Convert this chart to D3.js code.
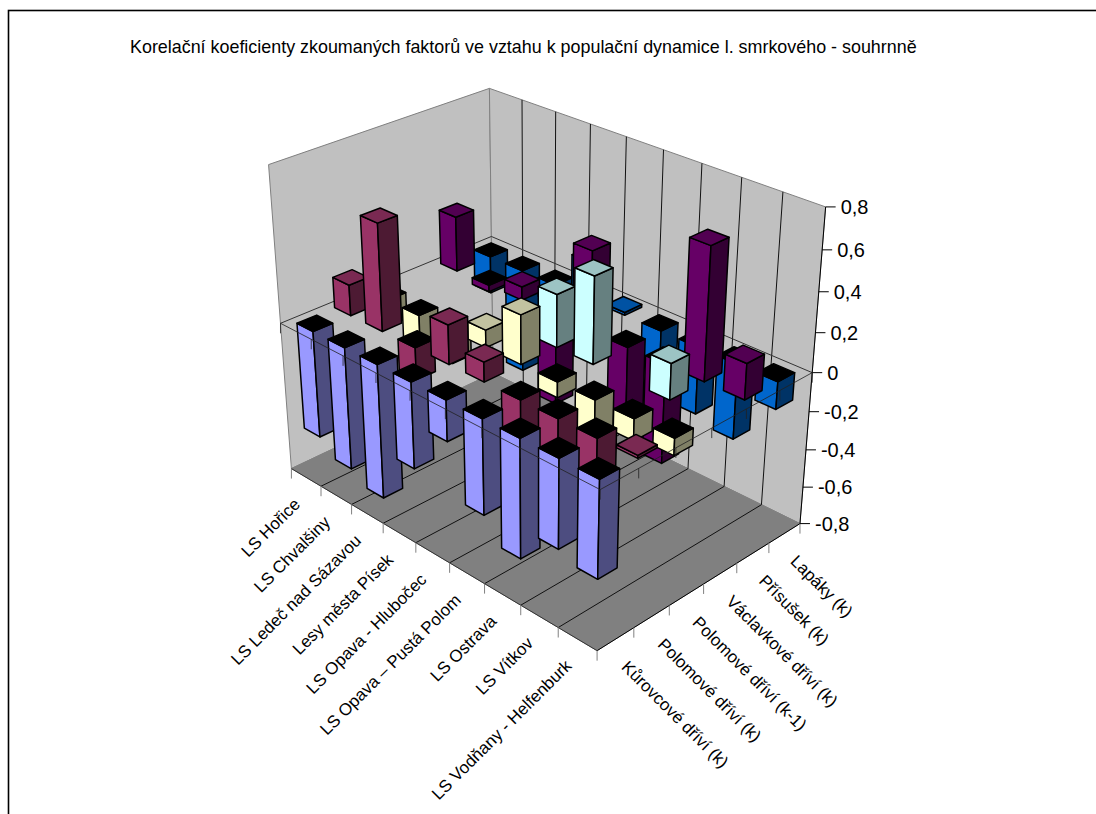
<!DOCTYPE html>
<html>
<head>
<meta charset="utf-8">
<script src="https://cdn.jsdelivr.net/npm/d3@7"></script>
<style>
html,body{margin:0;padding:0;background:#fff}
svg{display:block}
text{font-family:"Liberation Sans",Arial,sans-serif;fill:#000}
</style>
</head>
<body>
<div id="chart"></div>
<script>
const chartTitle = "Korelační koeficienty zkoumaných faktorů ve vztahu k populační dynamice l. smrkového - souhrnně";
const categories = ["LS Hořice","LS Chvalšiny","LS Ledeč nad Sázavou","Lesy města Písek","LS Opava - Hlubočec","LS Opava – Pustá Polom","LS Ostrava","LS Vítkov","LS Vodňany - Helfenburk"];
const seriesNames = ["Kůrovcové dříví (k)","Polomové dříví (k)","Polomové dříví (k-1)","Václavkové dříví (k)","Přísušek (k)","Lapáky (k)"];
const valueTicks = [-0.8,-0.6,-0.4,-0.2,0,0.2,0.4,0.6,0.8];

const kurovcove  = [-0.57,-0.65,-0.71,-0.45,-0.21,-0.49,-0.61,-0.45,-0.49];
const polomoveK  = [0.16,0.55,-0.17,0.20,0.10,-0.30,-0.30,-0.30,0.015];
const polomoveK1 = [-0.14,-0.20,-0.17,0.09,0.25,-0.08,-0.20,-0.11,-0.085];
const vaclavkove = [null,null,null,null,0.27,0.44,null,0.18,null];
const prisusek   = [0.29,-0.035,0.07,-0.48,0.41,-0.35,-0.52,0.66,0.18];
const lapaky     = [-0.20,-0.56,-0.10,0.20,0.015,-0.20,-0.35,-0.39,-0.14];
const seriesValues = [kurovcove,polomoveK,polomoveK1,vaclavkove,prisusek,lapaky];

// Face colours per series: lit side, shaded side, top
const litFaces   = ["#9999FF","#993366","#FFFFCC","#CCFFFF","#660066","#0066CC"];
const shadeFaces = ["#4D4D80","#4D1A33","#808066","#668080","#330033","#003366"];
const topFaces   = ["#000000","#7A2952","#C2C2A0","#9CC4C4","#520052","#0052A3"];

const width = 1096, height = 814;
const svg = d3.select("#chart").append("svg").attr("width",width).attr("height",height);

// Perspective camera, fitted to where the box corners and axis divisions land on the page.
// Each row: category-axis fraction, series-axis fraction, value fraction, page x, page y.
const cameraFit = [
  [0,0,-1,291,467],[0,0,0,280,322],[0,0,1,268,167],
  [1,0,-1,597,650],[1,0,0,600,489],
  [0,1,-1,493,375],[0,1,0,492,237],[0,1,1,490,87],
  [1,1,-1,800,523],[1,1,-.75,803,486],[1,1,-.5,806,449],[1,1,-.25,809,412],[1,1,0,812,373],
  [1,1,.25,815,333],[1,1,.5,819,291],[1,1,.75,823,250],[1,1,1,825,207],
  [1/9,0,-1,321,486],[2/9,0,-1,352,504],[3/9,0,-1,383,523],[4/9,0,-1,415,542],
  [5/9,0,-1,450,563],[6/9,0,-1,485,584],[7/9,0,-1,522,606],[8/9,0,-1,559,628],
  [1,1/6,-1,634,628],[1,2/6,-1,669,607],[1,3/6,-1,703,585],[1,4/6,-1,737,563],[1,5/6,-1,768,543]
];

function solveLinear(A,b){
  const n=b.length, M=A.map((r,i)=>[...r,b[i]]);
  for(let i=0;i<n;i++){
    let p=i;
    for(let k=i+1;k<n;k++) if(Math.abs(M[k][i])>Math.abs(M[p][i])) p=k;
    [M[i],M[p]]=[M[p],M[i]];
    for(let k=i+1;k<n;k++){
      const f=M[k][i]/M[i][i];
      for(let j=i;j<=n;j++) M[k][j]-=f*M[i][j];
    }
  }
  const x=new Array(n).fill(0);
  for(let i=n-1;i>=0;i--){
    let s=M[i][n];
    for(let j=i+1;j<n;j++) s-=M[i][j]*x[j];
    x[i]=s/M[i][i];
  }
  return x;
}
function fitCamera(rows){
  const eqs=[],rhs=[];
  rows.forEach(([u,w,h,x,y])=>{
    eqs.push([u,w,h,1,0,0,0,0,-x*u,-x*w,-x*h]); rhs.push(x);
    eqs.push([0,0,0,0,u,w,h,1,-y*u,-y*w,-y*h]); rhs.push(y);
  });
  const N=11, A=d3.range(N).map(()=>new Array(N).fill(0)), b=new Array(N).fill(0);
  eqs.forEach((e,k)=>{
    for(let i=0;i<N;i++){
      b[i]+=e[i]*rhs[k];
      for(let j=0;j<N;j++) A[i][j]+=e[i]*e[j];
    }
  });
  return solveLinear(A,b);
}
const cam = fitCamera(cameraFit);

const catAxis = d3.scaleLinear().domain([0,categories.length]).range([0,1]);
const serAxis = d3.scaleLinear().domain([0,seriesNames.length]).range([0,1]);
const valAxis = d3.scaleLinear().domain([-0.8,0.8]).range([-1,1]);
const catBand = d3.scaleBand().domain(d3.range(categories.length)).range([0,categories.length]).paddingInner(0.48).paddingOuter(0.24);
const serBand = d3.scaleBand().domain(d3.range(seriesNames.length)).range([0,seriesNames.length]).paddingInner(0.48).paddingOuter(0.24);

// Project category position, series position and value onto the page
function project(c,s,v){
  const u=catAxis(c), w=serAxis(s), h=valAxis(v);
  const d=cam[8]*u+cam[9]*w+cam[10]*h+1;
  return [(cam[0]*u+cam[1]*w+cam[2]*h+cam[3])/d,(cam[4]*u+cam[5]*w+cam[6]*h+cam[7])/d];
}
const nC=categories.length, nS=seriesNames.length;
const outline=pts=>"M"+pts.map(p=>p.join(",")).join("L")+"Z";
const segment=(a,b)=>"M"+a.join(",")+"L"+b.join(",");

// Chart frame runs off the right and bottom of the page
svg.append("rect").attr("x",8.5).attr("y",10.5).attr("width",1200).attr("height",1000)
  .attr("fill","#fff").attr("stroke","#000").attr("stroke-width",1.6);

svg.append("text").attr("x",130).attr("y",53).attr("font-size",17.9).text(chartTitle);

// Walls and floor
const wallsG=svg.append("g");
wallsG.append("path").attr("d",outline([project(0,0,-.8),project(0,0,.8),project(0,nS,.8),project(0,nS,-.8)]))
  .attr("fill","#C0C0C0").attr("stroke","#808080");
wallsG.append("path").attr("d",outline([project(0,nS,-.8),project(0,nS,.8),project(nC,nS,.8),project(nC,nS,-.8)]))
  .attr("fill","#C0C0C0").attr("stroke","#808080");
wallsG.append("path").attr("d",outline([project(0,0,-.8),project(0,nS,-.8),project(nC,nS,-.8),project(nC,0,-.8)]))
  .attr("fill","#808080").attr("stroke","#808080");

// Category gridlines across the floor and up the back wall
d3.range(1,nC).forEach(c=>{
  wallsG.append("path").attr("fill","none").attr("stroke","#111").attr("stroke-width",1)
    .attr("d","M"+[project(c,0,-.8),project(c,nS,-.8),project(c,nS,.8)].map(p=>p.join(",")).join("L"));
});
wallsG.append("path").attr("d",segment(project(0,0,-.8),project(nC,0,-.8))).attr("stroke","#333").attr("fill","none");
wallsG.append("path").attr("d",segment(project(nC,0,-.8),project(nC,nS,-.8))).attr("stroke","#000").attr("fill","none");

// Axis ticks below the floor edges
const floorTicks=svg.append("g").attr("stroke","#808080").attr("stroke-width",1).attr("fill","none");
d3.range(0,nC+1).forEach(c=>{const p=project(c,0,-.8);floorTicks.append("line").attr("x1",p[0]).attr("x2",p[0]).attr("y1",p[1]).attr("y2",p[1]+10);});
d3.range(1,nS+1).forEach(s=>{const p=project(nC,s,-.8);floorTicks.append("line").attr("x1",p[0]).attr("x2",p[0]).attr("y1",p[1]).attr("y2",p[1]+10);});

// Zero plane, far edges sit behind the bars
const zeroBack=svg.append("g").attr("stroke","#333").attr("fill","none");
zeroBack.append("path").attr("d",segment(project(0,0,0),project(0,nS,0)));
zeroBack.append("path").attr("d",segment(project(0,nS,0),project(nC,nS,0)));

// Value axis
const axisG=svg.append("g");
axisG.append("path").attr("d",segment(project(nC,nS,-.8),project(nC,nS,.8))).attr("stroke","#000").attr("fill","none");
valueTicks.forEach(v=>{
  const p=project(nC,nS,v);
  axisG.append("line").attr("x1",p[0]).attr("x2",p[0]+10).attr("y1",p[1]).attr("y2",p[1]).attr("stroke","#000");
  axisG.append("text").attr("x",p[0]+15).attr("y",p[1]+7).attr("font-size",20)
    .text(v===0?"0":d3.format(".1f")(v).replace(".",",").replace("−","-"));
});

// Bars, painted from the far series forward and from the far category forward
const bars=[];
d3.range(nS-1,-1,-1).forEach(j=>{
  d3.range(0,nC).forEach(i=>{
    const v=seriesValues[j][i];
    if(v!==null) bars.push({i,j,v});
  });
});
const barG=svg.append("g").attr("stroke","#000").attr("stroke-width",1.5).attr("stroke-linejoin","round");
const barSel=barG.selectAll("g").data(bars).join("g");
const corners=d=>{
  const c0=catBand(d.i),c1=c0+catBand.bandwidth(),s0=serBand(d.j),s1=s0+serBand.bandwidth();
  return {c0,c1,s0,s1,hi:Math.max(0,d.v),lo:Math.min(0,d.v)};
};
barSel.append("path").attr("fill",d=>litFaces[d.j]).attr("d",d=>{
  const k=corners(d);
  return outline([project(k.c0,k.s0,k.hi),project(k.c1,k.s0,k.hi),project(k.c1,k.s0,k.lo),project(k.c0,k.s0,k.lo)]);
});
barSel.append("path").attr("fill",d=>shadeFaces[d.j]).attr("d",d=>{
  const k=corners(d);
  return outline([project(k.c1,k.s0,k.hi),project(k.c1,k.s1,k.hi),project(k.c1,k.s1,k.lo),project(k.c1,k.s0,k.lo)]);
});
barSel.append("path").attr("fill",d=>d.v<0?"#000":topFaces[d.j]).attr("d",d=>{
  const k=corners(d);
  return outline([project(k.c0,k.s0,k.hi),project(k.c1,k.s0,k.hi),project(k.c1,k.s1,k.hi),project(k.c0,k.s1,k.hi)]);
});

// Near edges of the zero plane with their division ticks cross over the bars
const zeroFront=svg.append("g").attr("stroke","#222").attr("stroke-opacity",0.8).attr("fill","none");
zeroFront.append("path").attr("d",segment(project(0,0,0),project(nC,0,0)));
zeroFront.append("path").attr("d",segment(project(nC,0,0),project(nC,nS,0)));
d3.range(0,nC+1).forEach(c=>{const p=project(c,0,0);zeroFront.append("line").attr("x1",p[0]).attr("x2",p[0]).attr("y1",p[1]).attr("y2",p[1]+10);});
d3.range(1,nS+1).forEach(s=>{const p=project(nC,s,0);zeroFront.append("line").attr("x1",p[0]).attr("x2",p[0]).attr("y1",p[1]).attr("y2",p[1]+10);});

// Axis labels at 45 degrees along the two near floor edges
const labelSize=17;
svg.append("g").selectAll("text").data(categories).join("text")
  .attr("font-size",labelSize).attr("text-anchor","end")
  .attr("transform",(d,i)=>{const p=project(i+.5,0,-.8);return `translate(${p[0]-5},${p[1]+28}) rotate(-45)`;})
  .text(d=>d);
svg.append("g").selectAll("text").data(seriesNames).join("text")
  .attr("font-size",labelSize).attr("text-anchor","start")
  .attr("transform",(d,j)=>{const p=project(nC,j+.5,-.8);return `translate(${p[0]+5},${p[1]+29}) rotate(45)`;})
  .text(d=>d);
</script>
</body>
</html>
